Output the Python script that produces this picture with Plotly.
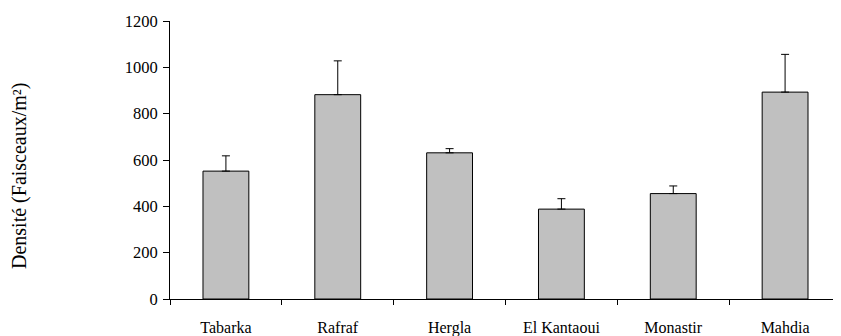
import plotly.graph_objects as go

sites = ["Tabarka", "Rafraf", "Hergla", "El Kantaoui", "Monastir", "Mahdia"]
density = [552, 882, 631, 388, 455, 893]
error_plus = [66, 146, 18, 45, 33, 163]
y_ticks = [0, 200, 400, 600, 800, 1000, 1200]

font_family = "Liberation Serif"

fig = go.Figure()
fig.add_trace(go.Bar(
    x=sites,
    y=density,
    marker=dict(color="#C0C0C0", line=dict(color="black", width=1)),
    error_y=dict(type="data", array=error_plus, arrayminus=[0] * len(sites),
                 symmetric=False, color="black", thickness=1, width=4),
    showlegend=False,
))

# page body has an 8px default margin, compensated in the margins/size
fig.update_layout(
    width=833, height=328,
    margin=dict(l=162, r=0, t=13, b=37),
    paper_bgcolor="white", plot_bgcolor="white",
    bargap=0.59,
    font=dict(family=font_family, size=16, color="black"),
    xaxis=dict(
        showline=True, linecolor="black", linewidth=1,
        ticks="outside", tickson="boundaries", ticklen=5, tickcolor="black",
        showgrid=False, zeroline=False, ticklabelstandoff=14,
        tickfont=dict(family=font_family, size=16, color="black"),
    ),
    yaxis=dict(
        range=[0, 1200], tickvals=y_ticks,
        showline=True, linecolor="black", linewidth=1,
        ticks="outside", ticklen=6, tickcolor="black",
        showgrid=False, zeroline=False, ticklabelstandoff=2,
        tickfont=dict(family=font_family, size=16.5, color="black"),
    ),
    annotations=[dict(
        text="Densité (Faisceaux/m²)", textangle=-90,
        xref="paper", yref="paper", x=(19 - 170) / 671, y=(299 - 176) / 278,
        xanchor="center", yanchor="middle", showarrow=False,
        font=dict(family=font_family, size=20, color="black"),
    )],
)

fig.write_html("out.html")
